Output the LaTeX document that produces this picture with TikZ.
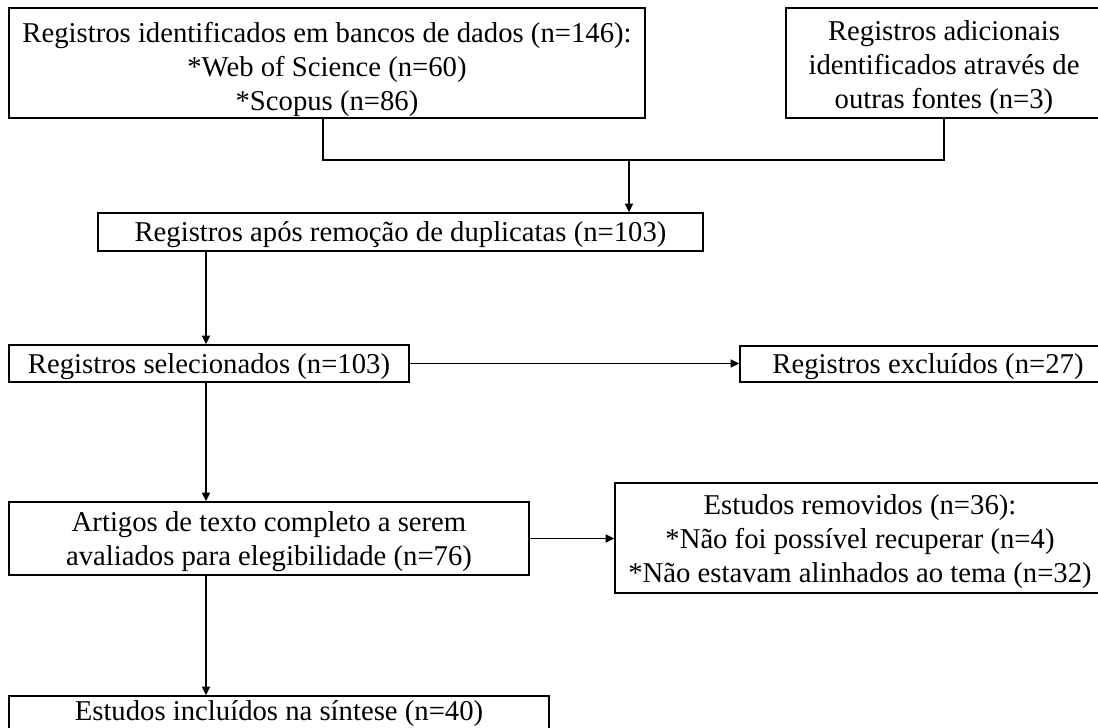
\documentclass[tikz,border=0pt]{standalone}
\usepackage{fontspec}
\setmainfont{Liberation Serif}
\usetikzlibrary{arrows.meta}
\begin{document}
\begin{tikzpicture}[x=1pt,y=-1pt,
  box/.style={draw=black, line width=1.7pt, inner sep=0pt},
  txt/.style={inner sep=0pt, align=center, font=\fontsize{28.7}{34}\selectfont},
  conn/.style={draw=black, line width=1.6pt},
  arr/.style={conn, -{Triangle[length=8.5pt,width=8pt]}}]
\useasboundingbox[fill=white] (0,0) rectangle (1098,728);
% boxes
\node[box, minimum width=636pt, minimum height=110pt] (b1) at (327,63) {};
\node[box, minimum width=316pt, minimum height=110pt] (b2) at (944,63) {};
\node[box, minimum width=605pt, minimum height=38pt] (b3) at (400.5,232) {};
\node[box, minimum width=400pt, minimum height=37pt] (b4) at (209,363.5) {};
\node[box, minimum width=376pt, minimum height=36pt] (b5) at (928,364) {};
\node[box, minimum width=520pt, minimum height=73pt] (b6) at (269,538.5) {};
\node[box, minimum width=490pt, minimum height=110pt] (b7) at (860,538) {};
\node[box, minimum width=540pt, minimum height=37pt] (b8) at (279,714.5) {};
% texts
\node[txt] (t1) at ([yshift=-6pt]b1.center)
  {Registros identificados em bancos de dados (n=146):\\{*}Web of Science (n=60)\\{*}Scopus (n=86)};
\node[txt] (t2) at ([yshift=-5pt]b2.center)
  {Registros adicionais\\identificados através de\\outras fontes (n=3)};
\node[txt] (t3) at ([yshift=-3pt]b3.center) {Registros após remoção de duplicatas (n=103)};
\node[txt] (t4) at ([yshift=-3.5pt]b4.center) {Registros selecionados (n=103)};
\node[txt] (t5) at ([yshift=-3pt]b5.center) {Registros excluídos (n=27)};
\node[txt] (t6) at ([yshift=-3.5pt]b6.center)
  {Artigos de texto completo a serem\\avaliados para elegibilidade (n=76)};
\node[txt] (t7) at ([yshift=-4pt]b7.center)
  {Estudos removidos (n=36):\\{*}Não foi possível recuperar (n=4)\\{*}Não estavam alinhados ao tema (n=32)};
\node[txt] (t8) at ([yshift=1pt]b8.center) {Estudos incluídos na síntese (n=40)};
% connectors
\coordinate (j) at (629,160);
\coordinate (l1) at (323,0);
\coordinate (v) at (206,0);
\draw[conn] (l1 |- b1.south) -- (l1 |- j) -- (b2.south |- j) -- (b2.south);
\draw[arr] (j) -- (j |- b3.north);
\draw[arr] (v |- b3.south) -- (v |- b4.north);
\draw[arr] (b4.east) -- (b4.east -| b5.west);
\draw[arr] (v |- b4.south) -- (v |- b6.north);
\draw[arr] (b6.east) -- (b6.east -| b7.west);
\draw[arr] (v |- b6.south) -- (v |- b8.north);
\end{tikzpicture}
\end{document}
